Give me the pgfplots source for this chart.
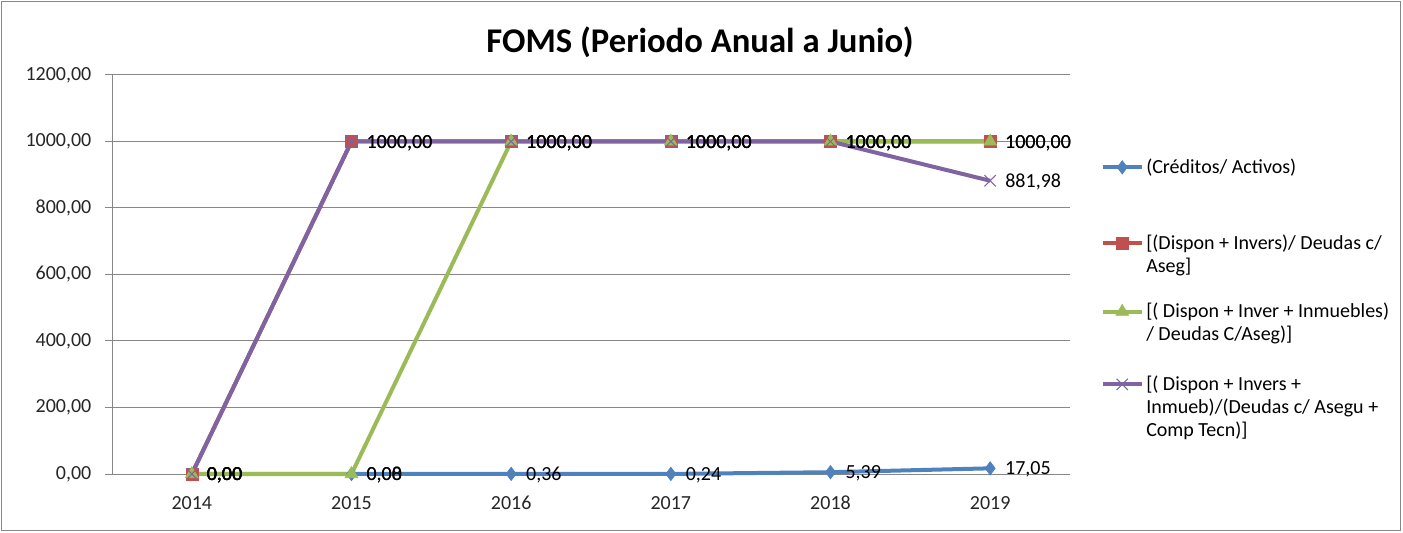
\documentclass[border=0pt]{standalone}
\usepackage{pgfplots}
\pgfplotsset{compat=1.18}
\usepackage{fontspec}
\setmainfont{Carlito}
\definecolor{sBlue}{HTML}{4F81BD}
\definecolor{sRed}{HTML}{C0504D}
\definecolor{sGreen}{HTML}{9BBB59}
\definecolor{sPurple}{HTML}{8064A2}
\definecolor{gridgray}{HTML}{878787}
\newcommand\lgl[1]{\hbox{\vrule width 0pt height 12pt depth 5.25pt #1}}
\begin{document}
\fontsize{15pt}{17.25pt}\selectfont
\begin{tikzpicture}[x=0.75pt,y=0.75pt]
\useasboundingbox (0,0) rectangle (1403,532);
\draw[gridgray,line width=0.75pt] (1.5,1.5) rectangle (1400.5,530.5);
\begin{axis}[
  at={(112*0.75pt,58*0.75pt)}, anchor=south west,
  scale only axis, width=718.5pt, height=299.25pt,
  xmin=-0.5, xmax=5.5, ymin=0, ymax=1200,
  xtick={0,1,2,3,4,5},
  xticklabels={2014,2015,2016,2017,2018,2019},
  ytick={0,200,...,1200},
  axis lines*=left,
  axis line style={gridgray, line width=0.75pt},
  x axis line style={-},
  y axis line style={-},
  ymajorgrids, grid style={gridgray, line width=0.75pt},
  major x tick style={draw=none},
  major y tick style={gridgray, line width=0.75pt},
  tick align=outside, major tick length=5pt,
  tick label style={font=\fontsize{15pt}{18pt}\selectfont, text=black!85},
  xticklabel style={yshift=-4pt, text height=11pt, text depth=0pt},
  yticklabel style={xshift=-4pt, /pgf/number format/.cd, fixed, fixed zerofill, precision=2, use comma, 1000 sep={}},
  /pgf/number format/assume math mode=true,
  clip=false,
  line width=3pt,
  nodes near coords,
  nodes near coords style={anchor=west, xshift=6pt, yshift=-1pt, font=\fontsize{15pt}{18pt}\selectfont, text=black,
    /pgf/number format/.cd, fixed, fixed zerofill, precision=2, use comma, 1000 sep={}, assume math mode=true},
  legend style={at={(1.026,0.812)}, anchor=north west, draw=none, fill=none,
    font=\fontsize{15pt}{17.25pt}\selectfont, row sep=16pt,
    cells={anchor=base west}},
  legend image code/.code={\draw[mark repeat=2,mark phase=2] plot coordinates {(0pt,4.5pt)(14.5pt,4.5pt)(29pt,4.5pt)};},
]
\addplot[color=sBlue, mark=diamond*, mark size=5pt, mark options={solid, line width=0.5pt}] coordinates {(0,0) (1,0.08) (2,0.36) (3,0.24) (4,5.39) (5,17.05)};
\addlegendentry{\vbox{\lgl{(Créditos/ Activos)}}}
\addplot[color=sRed, mark=square*, mark size=4.5pt, mark options={solid, line width=0.5pt},
  legend image code/.code={\draw[mark repeat=2,mark phase=2] plot coordinates {(0pt,21.75pt)(14.5pt,21.75pt)(29pt,21.75pt)};}] coordinates {(0,0) (1,1000) (2,1000) (3,1000) (4,1000) (5,1000)};
\addlegendentry{\vbox{\vskip 22.5pt\lgl{[(Dispon + Invers)/ Deudas c/}\lgl{Aseg]}}}
\addplot[color=sGreen, mark=triangle*, mark size=5.5pt, mark options={solid, line width=0.5pt},
  legend image code/.code={\draw[mark repeat=2,mark phase=2] plot coordinates {(0pt,21.75pt)(14.5pt,21.75pt)(29pt,21.75pt)};}] coordinates {(0,0) (1,0) (2,1000) (3,1000) (4,1000) (5,1000)};
\addlegendentry{\vbox{\lgl{[( Dispon + Inver + Inmuebles)}\lgl{/ Deudas C/Aseg)]}}}
\addplot[color=sPurple, mark=x, mark size=6pt, mark options={solid, line width=0.75pt},
  legend image code/.code={\draw[mark repeat=2,mark phase=2] plot coordinates {(0pt,39pt)(14.5pt,39pt)(29pt,39pt)};}] coordinates {(0,0) (1,1000) (2,1000) (3,1000) (4,1000) (5,881.98)};
\addlegendentry{\vbox{\vskip 3pt\lgl{[( Dispon + Invers +}\lgl{Inmueb)/(Deudas c/ Asegu +}\lgl{Comp Tecn)]}}}
\end{axis}
\node[font=\fontsize{26pt}{30pt}\selectfont\bfseries, text=black] at (700,490) {FOMS (Periodo Anual a Junio)};
\end{tikzpicture}
\end{document}
